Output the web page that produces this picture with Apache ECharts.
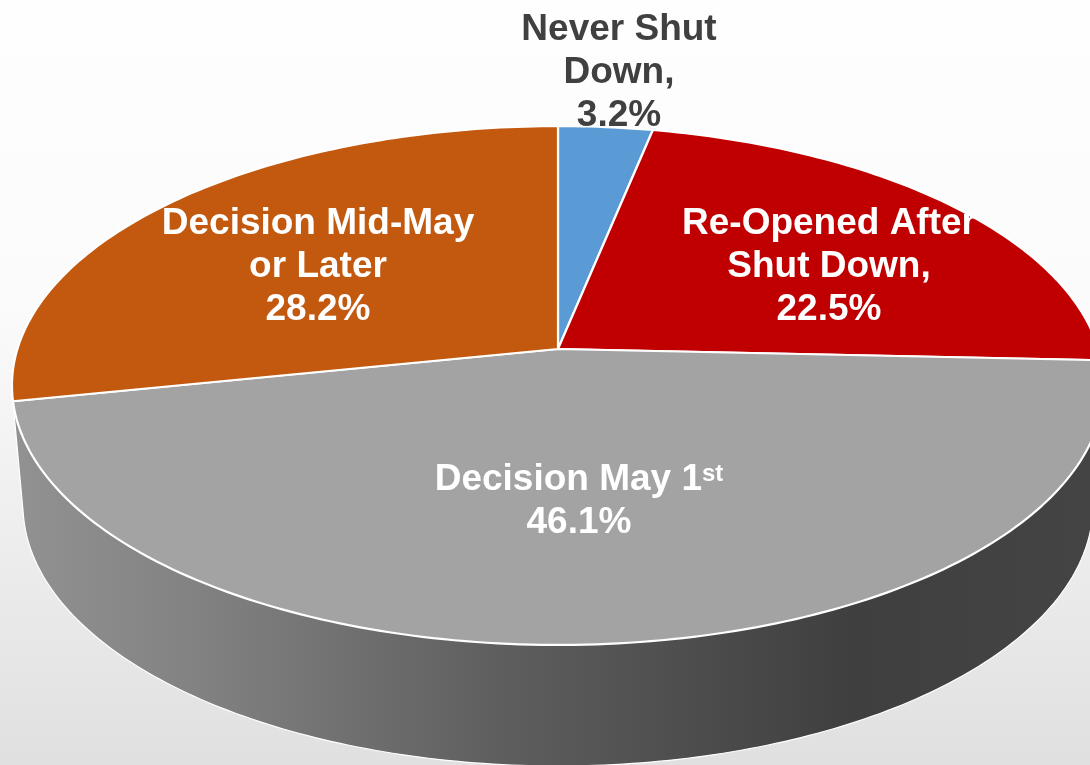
<!DOCTYPE html>
<html>
<head>
<meta charset="utf-8">
<script src="https://cdn.jsdelivr.net/npm/echarts@6/dist/echarts.min.js"></script>
<style>html,body{margin:0;padding:0;background:#fff}#c{width:1090px;height:765px}</style>
</head>
<body>
<div id="c"></div>
<script>
const categories = ['Never Shut Down', 'Re-Opened After Shut Down', 'Decision May 1st', 'Decision Mid-May or Later'];
const shares = [3.2, 22.5, 46.1, 28.2];
const shareLabels = ['3.2%', '22.5%', '46.1%', '28.2%'];
const sliceColors = ['#5b9bd5', '#c00000', '#a3a3a3', '#c2590f'];
const labelTexts = [
  '{d|Never Shut}\n{d|Down,}\n{d|3.2%}',
  '{w|Re-Opened After}\n{w|Shut Down,}\n{w|22.5%}',
  '{w|Decision May 1}{s|st}\n{w|46.1%}',
  '{w|Decision Mid-May}\n{w|or Later}\n{w|28.2%}'
];
const labelCenters = [[619, 73], [829, 267], [579, 501.5], [318, 267]];

// Perspective projection of the pie's top disc
const CX = 558, CY = 349, RA = 540.6, RB = 254.3, K = 0.1407;
function project(theta) {
  const u = Math.sin(theta), v = -Math.cos(theta), d = 1 - K * v;
  return [CX + RA * u / d, CY + RB * v / d];
}
// Bottom rim of the pie's wall
const BX = 558, BY = 505, BRX = 535, BRY = 261;

function cross(o, a, b) { return (a[0]-o[0])*(b[1]-o[1]) - (a[1]-o[1])*(b[0]-o[0]); }
function hull(pts) {
  pts = pts.slice().sort((a, b) => a[0] - b[0] || a[1] - b[1]);
  const lo = [], up = [];
  for (const p of pts) { while (lo.length > 1 && cross(lo[lo.length-2], lo[lo.length-1], p) <= 0) lo.pop(); lo.push(p); }
  for (const p of pts.slice().reverse()) { while (up.length > 1 && cross(up[up.length-2], up[up.length-1], p) <= 0) up.pop(); up.push(p); }
  return lo.slice(0, -1).concat(up.slice(0, -1));
}

const total = shares.reduce((a, b) => a + b, 0);
const chart = echarts.init(document.getElementById('c'), null, { renderer: 'canvas' });

function renderWall() {
  const pts = [];
  for (let i = 0; i < 360; i++) {
    const t = i / 360 * Math.PI * 2;
    pts.push(project(t));
    pts.push([BX + BRX * Math.cos(t), BY + BRY * Math.sin(t)]);
  }
  return {
    type: 'polygon',
    shape: { points: hull(pts) },
    style: {
      fill: { type: 'linear', x: 0, y: 0, x2: 1090, y2: 0, global: true, colorStops: [
        { offset: 0, color: '#939393' },
        { offset: 0.18, color: '#828282' },
        { offset: 0.46, color: '#5e5e5e' },
        { offset: 0.78, color: '#3f3f3f' },
        { offset: 1, color: '#444444' }
      ] },
      stroke: '#ffffff', lineWidth: 1.2, lineJoin: 'round'
    }
  };
}

function renderSlice(params, api) {
  const idx = params.dataIndex;
  let before = 0;
  for (let i = 0; i < idx; i++) before += shares[i];
  const a0 = before / total * Math.PI * 2;
  const a1 = (before + api.value(0)) / total * Math.PI * 2;
  const n = Math.max(2, Math.ceil((a1 - a0) / (Math.PI / 180)));
  const pts = [[CX, CY]];
  for (let i = 0; i <= n; i++) pts.push(project(a0 + (a1 - a0) * i / n));
  const c = labelCenters[idx];
  return {
    type: 'group',
    children: [
      {
        type: 'polygon',
        shape: { points: pts },
        style: { fill: sliceColors[idx], stroke: '#ffffff', lineWidth: 2.2, lineJoin: 'round' }
      },
      {
        type: 'text', z2: 10, x: c[0], y: c[1],
        style: {
          text: labelTexts[idx], align: 'center', verticalAlign: 'middle',
          rich: {
            w: { fontFamily: '"Liberation Sans", Arial', fontWeight: 'bold', fontSize: 37, lineHeight: 43, fill: '#ffffff' },
            d: { fontFamily: '"Liberation Sans", Arial', fontWeight: 'bold', fontSize: 37, lineHeight: 43, fill: '#404040' },
            s: { fontFamily: '"Liberation Sans", Arial', fontWeight: 'bold', fontSize: 24, lineHeight: 43, verticalAlign: 'middle', padding: [0, 0, 11, 0], fill: '#ffffff' }
          }
        }
      }
    ]
  };
}

chart.setOption({
  animation: false,
  backgroundColor: {
    type: 'linear', x: 0, y: 0, x2: 0, y2: 1,
    colorStops: [{ offset: 0, color: '#fefefe' }, { offset: 0.4, color: '#fbfbfb' }, { offset: 1, color: '#e0e0e0' }]
  },
  series: [
    { type: 'custom', coordinateSystem: 'none', z: 1, silent: true, renderItem: renderWall, data: [[shares[2]]], clip: false },
    { type: 'custom', coordinateSystem: 'none', z: 2, silent: true, renderItem: renderSlice,
      data: shares.map((v, i) => ({ name: categories[i], value: [v, shareLabels[i]] })), clip: false }
  ]
});
</script>
</body>
</html>
